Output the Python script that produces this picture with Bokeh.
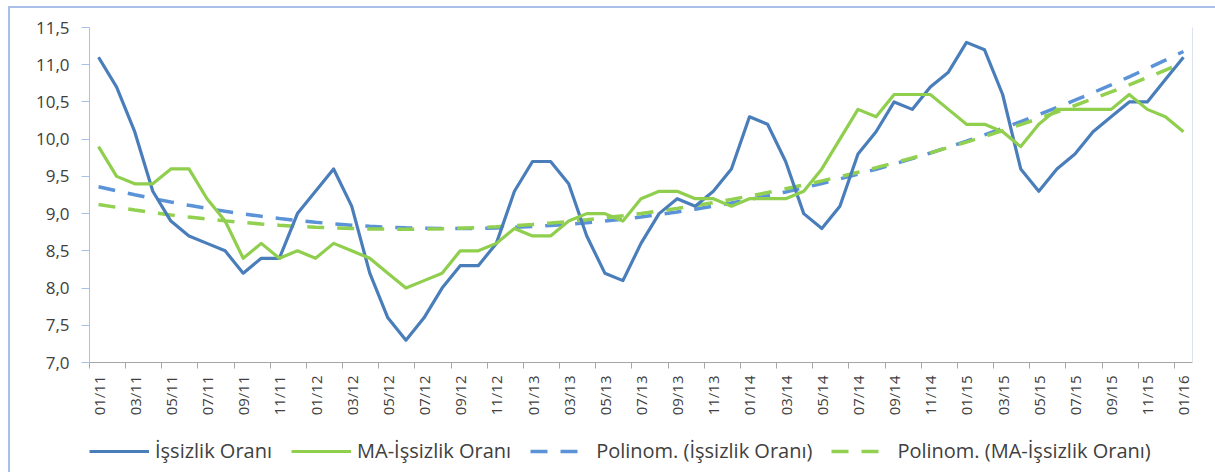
import numpy as np
from bokeh.plotting import figure
from bokeh.layouts import column
from bokeh.models import (FixedTicker, CustomJSTickFormatter, Legend, LegendItem,
                          LinearAxis, Range1d)
from bokeh.embed import file_html
from bokeh.resources import INLINE
from math import pi

# ---------------- data ----------------
tick_labels = ["01/11", "03/11", "05/11", "07/11", "09/11", "11/11",
               "01/12", "03/12", "05/12", "07/12", "09/12", "11/12",
               "01/13", "03/13", "05/13", "07/13", "09/13", "11/13",
               "01/14", "03/14", "05/14", "07/14", "09/14", "11/14",
               "01/15", "03/15", "05/15", "07/15", "09/15", "11/15",
               "01/16"]

issizlik = [11.1, 10.7, 10.1, 9.3, 8.9, 8.7, 8.6, 8.5, 8.2, 8.4,
            8.4, 9.0, 9.3, 9.6, 9.1, 8.2, 7.6, 7.3, 7.6, 8.0,
            8.3, 8.3, 8.6, 9.3, 9.7, 9.7, 9.4, 8.7, 8.2, 8.1,
            8.6, 9.0, 9.2, 9.1, 9.3, 9.6, 10.3, 10.2, 9.7, 9.0,
            8.8, 9.1, 9.8, 10.1, 10.5, 10.4, 10.7, 10.9, 11.3, 11.2,
            10.6, 9.6, 9.3, 9.6, 9.8, 10.1, 10.3, 10.5, 10.5, 10.8,
            11.1]

ma_issizlik = [9.9, 9.5, 9.4, 9.4, 9.6, 9.6, 9.2, 8.9, 8.4, 8.6,
               8.4, 8.5, 8.4, 8.6, 8.5, 8.4, 8.2, 8.0, 8.1, 8.2,
               8.5, 8.5, 8.6, 8.8, 8.7, 8.7, 8.9, 9.0, 9.0, 8.9,
               9.2, 9.3, 9.3, 9.2, 9.2, 9.1, 9.2, 9.2, 9.2, 9.3,
               9.6, 10.0, 10.4, 10.3, 10.6, 10.6, 10.6, 10.4, 10.2, 10.2,
               10.1, 9.9, 10.2, 10.4, 10.4, 10.4, 10.4, 10.6, 10.4, 10.3,
               10.1]

y_ticks = [7.0, 7.5, 8.0, 8.5, 9.0, 9.5, 10.0, 10.5, 11.0, 11.5]

series_names = ["İşsizlik Oranı", "MA-İşsizlik Oranı",
                "Polinom. (İşsizlik Oranı)", "Polinom. (MA-İşsizlik Oranı)"]

# ---------------- derived ----------------
x = np.arange(len(issizlik))
# Excel polynomial (order 2) trendlines fitted to the series
trend_blue = np.polyval(np.polyfit(x, issizlik, 2), x)
trend_green = np.polyval(np.polyfit(x, ma_issizlik, 2), x)
series = [issizlik, ma_issizlik, trend_blue, trend_green]

BLUE = "#4A7EBB"
GREEN = "#8FCF4D"
BLUE_T = "#5B93D8"
GREEN_T = "#92D050"
FONT = "Open Sans"
TXT = "#404040"
BORDER = "#A9C1EA"
DASH = "17 13"

line_styles = [
    dict(line_color=BLUE, line_width=3.2, line_join="round"),
    dict(line_color=GREEN, line_width=3.2, line_join="round"),
    dict(line_color=BLUE_T, line_width=3.5, line_dash=DASH),
    dict(line_color=GREEN_T, line_width=3.5, line_dash=DASH),
]
draw_order = [2, 3, 0, 1]  # trendlines underneath the data lines

# ---------------- main chart ----------------
p = figure(width=1215, height=420, output_backend="svg", toolbar_location=None,
           x_range=Range1d(-0.5, len(issizlik) - 0.5), y_range=Range1d(7.0, 11.5),
           min_border_left=89, min_border_right=23, min_border_top=27,
           min_border_bottom=58)
p.border_fill_color = None
p.background_fill_color = "white"
p.outline_line_color = None
p.xgrid.visible = False
p.ygrid.visible = False

for k in draw_order:
    p.line(x, series[k], **line_styles[k])

# x axis: labels at even months, tick marks between categories
xa = p.xaxis[0]
label_pos = list(range(0, len(issizlik), 2))
xa.ticker = FixedTicker(ticks=label_pos, minor_ticks=[i - 0.5 for i in label_pos])
xa.major_label_overrides = {pos: lab for pos, lab in zip(label_pos, tick_labels)}
xa.major_label_orientation = pi / 2
xa.major_tick_out = 0
xa.major_tick_in = 0
xa.minor_tick_out = 6
xa.minor_tick_in = 0
xa.minor_tick_line_color = "#A6A6A6"
xa.axis_line_color = "#A6A6A6"
xa.axis_line_width = 1
xa.major_label_standoff = 7
xa.major_label_text_font = FONT
xa.major_label_text_font_size = "15px"
xa.major_label_text_color = TXT

ya = p.yaxis[0]
ya.ticker = FixedTicker(ticks=y_ticks)
ya.formatter = CustomJSTickFormatter(code="return tick.toFixed(1).replace('.', ',');")
ya.axis_line_color = BORDER
ya.major_tick_line_color = BORDER
ya.major_tick_out = 8
ya.major_tick_in = 0
ya.minor_tick_line_color = None
ya.major_label_standoff = 12
ya.major_label_text_font = FONT
ya.major_label_text_font_size = "17px"
ya.major_label_text_color = TXT

# faint right border of the plot area
ra = LinearAxis(ticker=FixedTicker(ticks=[]), axis_line_color="#DCE2EE",
                major_tick_line_color=None, minor_tick_line_color=None)
p.add_layout(ra, "right")

# ---------------- legend strip (frame aligned with the chart above) ----------------
lg = figure(width=1215, height=52, output_backend="svg", toolbar_location=None,
            x_range=Range1d(-0.5, len(issizlik) - 0.5), y_range=Range1d(0, 1),
            x_axis_location=None, y_axis_location=None, min_border=0)
lg.border_fill_color = None
lg.background_fill_color = None
lg.outline_line_color = None
lg.grid.grid_line_color = None

# same series drawn out of this strip's view, used only as legend glyph sources
proxies = [lg.line(x, series[k], **line_styles[k]) for k in range(4)]
legend = Legend(items=[LegendItem(label=n, renderers=[r]) for n, r in zip(series_names, proxies)],
                orientation="horizontal", location=(0, 8),
                glyph_width=60, glyph_height=20, label_height=20,
                label_standoff=6, spacing=19, padding=0, margin=0,
                border_line_color=None, background_fill_alpha=0,
                label_text_font=FONT, label_text_font_size="20px",
                label_text_color=TXT)
lg.add_layout(legend, "center")

page = column(p, lg, spacing=0)
page.styles = {"box-shadow": ("inset 0 6px 0 0 white, inset 8px 0 0 0 white, "
                              "inset 0 8px 0 0 %s, inset 10px 0 0 0 %s" % (BORDER, BORDER))}

open("out.html", "w").write(file_html(page, INLINE))
